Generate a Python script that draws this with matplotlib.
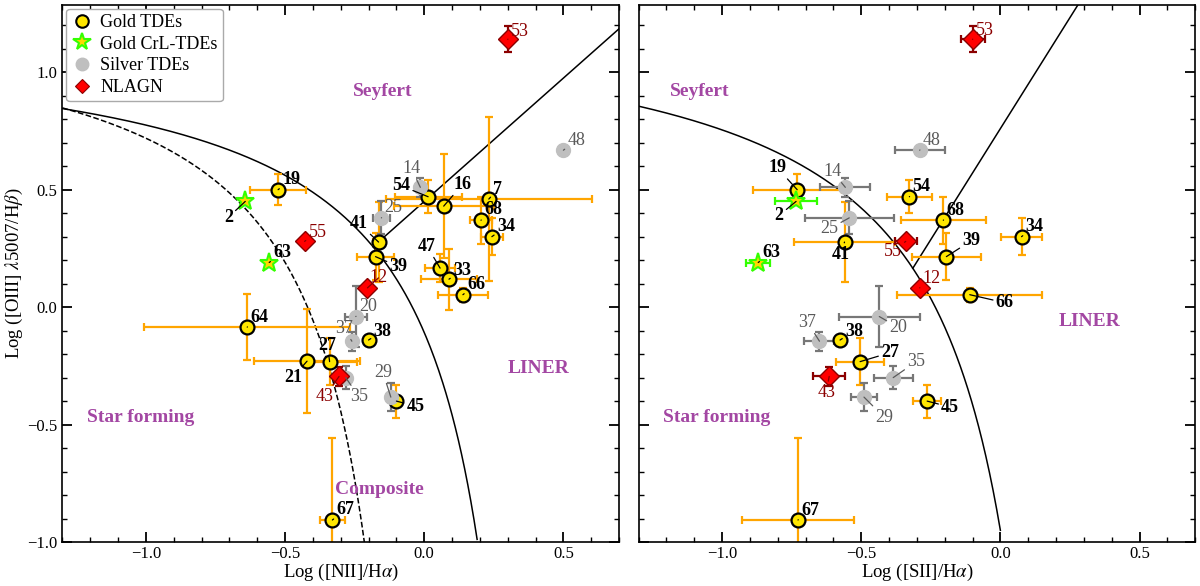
import numpy as np
import matplotlib
matplotlib.use("Agg")
import matplotlib.pyplot as plt
from matplotlib.lines import Line2D
from matplotlib.ticker import MultipleLocator

plt.rcParams['font.family'] = ['Liberation Serif', 'DejaVu Serif']
plt.rcParams['mathtext.fontset'] = 'stix'

# ---- data (log line ratios) ----
# Gold TDEs
gold_ids = [19, 54, 16, 7, 68, 34, 41, 39, 47, 33, 66, 64, 21, 27, 38, 45, 67]
gold_o3 = [0.50, 0.47, 0.43, 0.46, 0.37, 0.30, 0.277, 0.215, 0.166, 0.119, 0.053, -0.085, -0.23, -0.232, -0.14, -0.40, -0.906]
gold_o3_err = [0.065, 0.07, 0.22, 0.35, 0.10, 0.08, 0.17, 0.10, 0.06, 0.13, 0.03, 0.14, 0.22, 0.10, 0.0, 0.07, 0.35]
gold_n2 = [-0.525, 0.014, 0.07, 0.232, 0.204, 0.243, -0.164, -0.175, 0.057, 0.089, 0.139, -0.636, -0.421, -0.34, -0.20, -0.10, -0.33]
gold_n2_err = [0.10, 0.12, 0.18, 0.37, 0.04, 0.04, 0.02, 0.065, 0.055, 0.10, 0.09, 0.37, 0.19, 0.10, 0.0, 0.0, 0.045]
gold_s2 = [-0.73, -0.327, np.nan, np.nan, -0.205, 0.076, -0.56, -0.194, np.nan, np.nan, -0.11, np.nan, np.nan, -0.504, -0.576, -0.263, -0.727]
gold_s2_err = [0.16, 0.08, 0, 0, 0.153, 0.075, 0.18, 0.124, 0, 0, 0.26, 0, 0, 0.087, 0.0, 0.05, 0.20]

# Gold CrL-TDEs
crl_ids = [2, 63]
crl_o3 = [0.45, 0.19]
crl_n2 = [-0.643, -0.557]
crl_n2_err = [0.0, 0.0]
crl_s2 = [-0.734, -0.87]
crl_s2_err = [0.075, 0.043]

# Silver TDEs
silver_ids = [14, 25, 48, 20, 37, 35, 29]
silver_o3 = [0.51, 0.38, 0.668, -0.04, -0.145, -0.30, -0.383]
silver_o3_err = [0.04, 0.07, 0.0, 0.13, 0.04, 0.05, 0.06]
silver_n2 = [-0.014, -0.154, 0.50, -0.246, -0.26, -0.282, -0.12]
silver_n2_err = [0.0, 0.03, 0.0, 0.04, 0.0, 0.0, 0.0]
silver_s2 = [-0.557, -0.543, -0.29, -0.435, -0.65, -0.385, -0.49]
silver_s2_err = [0.09, 0.16, 0.09, 0.146, 0.054, 0.07, 0.045]

# NLAGN
agn_ids = [53, 55, 12, 43]
agn_o3 = [1.14, 0.28, 0.082, -0.295]
agn_o3_err = [0.055, 0.0, 0.0, 0.04]
agn_n2 = [0.30, -0.43, -0.204, -0.306]
agn_n2_err = [0.0, 0.0, 0.0, 0.0]
agn_s2 = [-0.10, -0.34, -0.29, -0.615]
agn_s2_err = [0.043, 0.04, 0.0, 0.057]

# label offsets (pixels) for each panel
lab_n2 = {19: (13, 10), 2: (-17, -16), 63: (13, 10), 55: (13, 9), 41: (-20, 19), 25: (12, 10),
          14: (-9, 19), 54: (-27, 11), 16: (19, 22), 7: (9, 10), 68: (12, 11), 34: (14, 10),
          48: (13, 10), 39: (23, -10), 47: (-13, 22), 33: (13, 9), 66: (13, 10), 12: (11, 10),
          20: (12, 10), 37: (-8, 13), 38: (14, 9), 64: (12, 10), 21: (-14, -16), 27: (-2, 16),
          43: (-14, -20), 35: (13, -19), 29: (-8, 25), 45: (19, -5), 67: (13, 10), 53: (12, 8)}
lab_s2 = {19: (-20, 22), 2: (-17, -14), 14: (-13, 16), 25: (-20, -11), 41: (-4, -12), 54: (12, 10),
          63: (13, 10), 55: (-13, -10), 12: (12, 9), 48: (12, 10), 68: (12, 10), 34: (13, 10),
          39: (25, 16), 66: (35, -8), 20: (19, -11), 37: (-12, 19), 38: (14, 9), 27: (30, 9),
          35: (23, 16), 43: (-3, -16), 29: (20, -20), 45: (23, -6), 67: (12, 9), 53: (12, 9)}

fig, axes = plt.subplots(1, 2, figsize=(12, 5.86), dpi=100)
plt.subplots_adjust(left=0.052, right=0.996, bottom=0.075, top=0.991, wspace=0.035)

region_col = '#A347A3'


def draw_group(ax, ids, xs, ys, xerr, yerr, style, labs):
    xs = np.asarray(xs, float)
    ys = np.asarray(ys, float)
    xerr = np.asarray(xerr, float)
    yerr = np.asarray(yerr, float)
    ok = ~np.isnan(xs)
    ax.errorbar(xs[ok], ys[ok], xerr=xerr[ok], yerr=yerr[ok], fmt='none',
                ecolor=style['ecolor'], elinewidth=1.6, capsize=3, capthick=1.6, zorder=2)
    ax.plot(xs[ok], ys[ok], ls='none', marker=style['marker'], ms=style['ms'],
            mfc=style['mfc'], mec=style['mec'], mew=style['mew'], zorder=3)
    for i, x, y in zip(np.asarray(ids)[ok], xs[ok], ys[ok]):
        dx, dy = labs[i]
        ax.annotate(str(i), xy=(x, y), xytext=(dx, dy), textcoords='offset pixels',
                    ha='center', va='center', fontsize=13, color=style['tcolor'],
                    fontweight=style['weight'], zorder=5,
                    arrowprops=dict(arrowstyle='-', color=style['tcolor'], lw=0.9,
                                    shrinkA=0, shrinkB=0))


gold_style = dict(marker='o', ms=10, mfc='#FFE600', mec='black', mew=1.6, ecolor='orange',
                  tcolor='black', weight='bold')
crl_style = dict(marker='*', ms=14, mfc='#FFD700', mec='#33FF00', mew=1.5, ecolor='#33FF00',
                 tcolor='black', weight='bold')
silver_style = dict(marker='o', ms=10, mfc='#BFBFBF', mec='#BFBFBF', mew=1, ecolor='#777777',
                    tcolor='#5A5A5A', weight='normal')
agn_style = dict(marker='D', ms=10, mfc='#FF0000', mec='#8B0000', mew=1.0, ecolor='#8B0000',
                 tcolor='#8B0000', weight='normal')

# ---- left: BPT [NII] ----
ax = axes[0]
x1 = np.linspace(-1.3, 0.19, 400)
ax.plot(x1, 0.61 / (x1 - 0.47) + 1.19, color='black', lw=1.1, zorder=1)
x2 = np.linspace(-1.3, -0.215, 400)
ax.plot(x2, 0.61 / (x2 - 0.05) + 1.3, color='black', lw=1.1, ls='--', zorder=1)
xx = np.linspace(-0.6, 0.4, 20001)
xs0 = xx[np.argmin(np.abs(0.61 / (xx - 0.47) + 1.19 - (1.05 * xx + 0.45)))]
x3 = np.linspace(xs0, 0.7, 50)
ax.plot(x3, 1.05 * x3 + 0.45, color='black', lw=1.1, zorder=1)

draw_group(ax, gold_ids, gold_n2, gold_o3, gold_n2_err, gold_o3_err, gold_style, lab_n2)
draw_group(ax, crl_ids, crl_n2, crl_o3, crl_n2_err, [0, 0], crl_style, lab_n2)
draw_group(ax, silver_ids, silver_n2, silver_o3, silver_n2_err, silver_o3_err, silver_style, lab_n2)
draw_group(ax, agn_ids, agn_n2, agn_o3, agn_n2_err, agn_o3_err, agn_style, lab_n2)

rk = dict(color=region_col, fontsize=14, fontweight='bold', ha='center', va='center')
ax.text(-0.15, 0.92, 'Seyfert', **rk)
ax.text(0.41, -0.26, 'LINER', **rk)
ax.text(-1.02, -0.47, 'Star forming', **rk)
ax.text(-0.16, -0.775, 'Composite', **rk)
ax.set_xlabel(r'Log ([NII]/H$\alpha$)', fontsize=13.5, labelpad=0)
ax.set_ylabel(r'Log ([OIII] $\lambda$5007/H$\beta$)', fontsize=13.5, labelpad=2)

handles = [
    Line2D([], [], ls='none', marker='o', ms=9, mfc='#FFE600', mec='black', mew=1.5),
    Line2D([], [], ls='none', marker='*', ms=13, mfc='#FFD700', mec='#33FF00', mew=1.5),
    Line2D([], [], ls='none', marker='o', ms=9, mfc='#BFBFBF', mec='#BFBFBF'),
    Line2D([], [], ls='none', marker='D', ms=7, mfc='#FF0000', mec='#8B0000', mew=0.8),
]
ax.legend(handles, ['Gold TDEs', 'Gold CrL-TDEs', 'Silver TDEs', 'NLAGN'], loc='upper left',
          fontsize=13, handletextpad=0.4, borderpad=0.3, labelspacing=0.25,
          handlelength=1.2, borderaxespad=0.2, framealpha=1, edgecolor='#AAAAAA')

# ---- right: BPT [SII] ----
ax = axes[1]
x1 = np.linspace(-1.3, 0.0, 400)
ax.plot(x1, 0.72 / (x1 - 0.32) + 1.30, color='black', lw=1.1, zorder=1)
xx = np.linspace(-0.8, 0.2, 20001)
xs0 = xx[np.argmin(np.abs(0.72 / (xx - 0.32) + 1.30 - (1.89 * xx + 0.76)))]
x3 = np.linspace(xs0, 0.4, 50)
ax.plot(x3, 1.89 * x3 + 0.76, color='black', lw=1.1, zorder=1)

draw_group(ax, gold_ids, gold_s2, gold_o3, gold_s2_err, gold_o3_err, gold_style, lab_s2)
draw_group(ax, crl_ids, crl_s2, crl_o3, crl_s2_err, [0, 0], crl_style, lab_s2)
draw_group(ax, silver_ids, silver_s2, silver_o3, silver_s2_err, silver_o3_err, silver_style, lab_s2)
draw_group(ax, agn_ids, agn_s2, agn_o3, agn_s2_err, agn_o3_err, agn_style, lab_s2)

ax.text(-1.08, 0.92, 'Seyfert', **rk)
ax.text(0.32, -0.06, 'LINER', **rk)
ax.text(-1.02, -0.47, 'Star forming', **rk)
ax.set_xlabel(r'Log ([SII]/H$\alpha$)', fontsize=13.5, labelpad=0)

for i, ax in enumerate(axes):
    ax.set_xlim(-1.3, 0.7)
    ax.set_ylim(-1.0, 1.285)
    ax.xaxis.set_major_locator(MultipleLocator(0.5))
    ax.xaxis.set_minor_locator(MultipleLocator(0.1))
    ax.yaxis.set_major_locator(MultipleLocator(0.5))
    ax.yaxis.set_minor_locator(MultipleLocator(0.1))
    ax.tick_params(which='both', direction='in', top=True, right=True, labelsize=12)
    ax.tick_params(axis='x', which='major', pad=3)
    ax.tick_params(which='major', length=7, width=1.3)
    ax.tick_params(which='minor', length=3.5, width=1.0)
    for s in ax.spines.values():
        s.set_linewidth(1.2)
axes[1].tick_params(labelleft=False)

fig.savefig('out.png', dpi=100)
